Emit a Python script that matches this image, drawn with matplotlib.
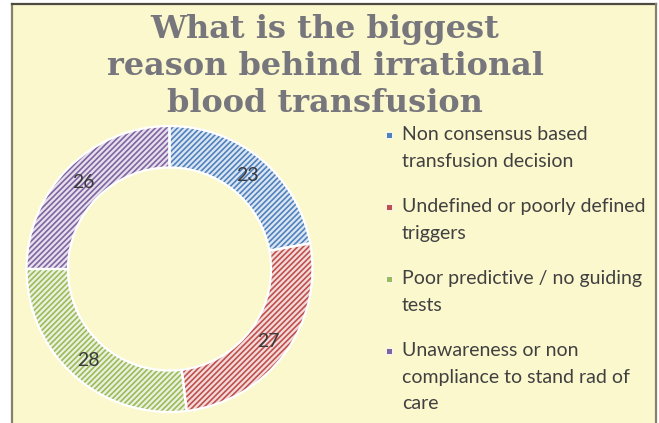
import matplotlib
matplotlib.use("Agg")
import matplotlib.pyplot as plt
from matplotlib.patches import Rectangle
from matplotlib.colors import to_rgb
import numpy as np

# ---- data ----
title = "What is the biggest\nreason behind irrational\nblood transfusion"
categories = [
    "Non consensus based\ntransfusion decision",
    "Undefined or poorly defined\ntriggers",
    "Poor predictive / no guiding\ntests",
    "Unawareness or non\ncompliance to stand rad of\ncare",
]
values = [23, 27, 28, 26]
colors = ["#4F81BD", "#C0504D", "#9BBB59", "#8064A2"]

BG = "#FBF8CE"
W, H = 659, 423
plt.rcParams["hatch.linewidth"] = 1.2

fig = plt.figure(figsize=(W / 100, H / 100), dpi=100)
fig.patch.set_facecolor("white")

# panel background + frame
fig.patches.append(Rectangle((12 / W, 0), (656 - 12) / W, (H - 4) / H,
                             transform=fig.transFigure, facecolor=BG,
                             edgecolor="none", zorder=-5))
fig.lines.append(plt.Line2D([12 / W, 12 / W], [0, 1 - 4 / H], transform=fig.transFigure,
                            color="#85816a", lw=1.6, zorder=-4))
fig.lines.append(plt.Line2D([12 / W, 656 / W], [1 - 4 / H, 1 - 4 / H], transform=fig.transFigure,
                            color="#4d4b3f", lw=1.6, zorder=-4))
fig.lines.append(plt.Line2D([656 / W, 656 / W], [0, 1 - 4 / H], transform=fig.transFigure,
                            color="#85816a", lw=1.6, zorder=-4))

# donut
cx, cy, R = 169.5, 269, 143
ax = fig.add_axes([(cx - R) / W, (H - cy - R) / H, 2 * R / W, 2 * R / H])
ax.set_facecolor("none")


def lighten(c, f=0.8):
    r = np.array(to_rgb(c))
    return tuple(r + (1 - r) * f)


wedges, _ = ax.pie(values, startangle=90, counterclock=False, radius=1,
                   colors=[lighten(c) for c in colors],
                   wedgeprops=dict(width=0.29, linewidth=0))
for w, c in zip(wedges, colors):
    w.set_hatch("//////")
    w.set_edgecolor(c)
    w.set_linewidth(0)
# white borders on top
wedges2, _ = ax.pie(values, startangle=90, counterclock=False, radius=1,
                    colors=["none"] * len(values),
                    wedgeprops=dict(width=0.29, linewidth=1.6, edgecolor="white", fill=False))

total = sum(values)
start = 90.0
for v in values:
    mid = start - v / total * 360 / 2
    start -= v / total * 360
    rr = 1 - 0.29 / 2
    ax.text(rr * np.cos(np.radians(mid)), rr * np.sin(np.radians(mid)), str(v),
            ha="center", va="center", fontsize=14, color="#3a3a3a", family="Lato")
ax.set_xlim(-1, 1)
ax.set_ylim(-1, 1)
ax.set_aspect("equal")
ax.axis("off")

# title
fig.text(325 / W, 1 - 14 / H, title, ha="center", va="top", fontsize=23,
         fontweight="bold", family="DejaVu Serif", color="#76767c", linespacing=1.25)

# legend
y = 135
for lab, c in zip(categories, colors):
    n = lab.count("\n") + 1
    fig.patches.append(Rectangle(((389 - 3) / W, 1 - (y + 3) / H), 6 / W, 6 / H,
                                 transform=fig.transFigure, facecolor=c,
                                 edgecolor="white", lw=0.6, zorder=3))
    fig.text(402 / W, 1 - (y - 9) / H, lab, ha="left", va="top", fontsize=14,
             family="Lato", color="#404040", linespacing=1.68)
    y += n * 27 + 18

fig.savefig("out.png", dpi=100, facecolor=fig.get_facecolor())
